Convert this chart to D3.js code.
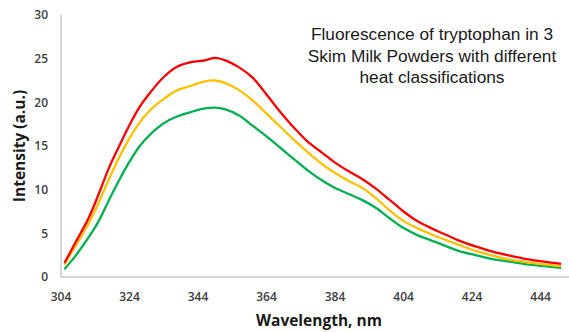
<!DOCTYPE html>
<html>
<head>
<meta charset="utf-8">
<script src="https://cdn.jsdelivr.net/npm/d3@7"></script>
<style>
  body { margin: 0; background: #fff; }
  svg { display: block; }
  .tick-label { font-family: "Open Sans", sans-serif; font-weight: 600; font-size: 12px; fill: #404040; }
  .axis-title { font-family: "Open Sans", sans-serif; font-weight: 700; font-size: 15.5px; fill: #1a1a1a; }
  .chart-title { font-family: "Liberation Sans", Arial, sans-serif; font-size: 17.3px; fill: #1a1a1a; }
</style>
</head>
<body>
<svg width="569" height="332"></svg>
<script>
var svg = d3.select("svg"),
    width = +svg.attr("width"),
    height = +svg.attr("height");

// wavelength (nm)
var wavelengths = [305, 308, 312, 315, 318, 321, 324, 327, 330, 334, 338, 342, 346, 349, 352, 356,
    360, 364, 368, 372, 376, 380, 384, 388, 392, 396, 400, 404, 408, 412, 416, 420, 425, 430, 435, 440, 445, 450];

var redValues = [1.6, 3.8, 6.7, 9.5, 12.5, 15.0, 17.4, 19.5, 21.1, 22.9, 24.1, 24.6, 24.8, 25.1, 24.8, 24.0,
    22.8, 20.9, 18.9, 17.1, 15.5, 14.3, 13.1, 12.1, 11.2, 10.1, 8.8, 7.5, 6.4, 5.6, 4.9, 4.2, 3.5, 2.9, 2.45, 2.05, 1.75, 1.5];

var yellowValues = [1.4, 3.4, 6.1, 8.5, 11.2, 13.7, 15.9, 17.7, 19.1, 20.4, 21.4, 21.9, 22.4, 22.5, 22.2, 21.4,
    20.2, 18.7, 17.2, 15.7, 14.3, 13.0, 11.9, 11.0, 10.2, 9.0, 7.6, 6.4, 5.6, 4.9, 4.3, 3.7, 3.0, 2.45, 2.0, 1.7, 1.45, 1.25];

var greenValues = [0.9, 2.3, 4.5, 6.4, 8.8, 11.1, 13.2, 15.0, 16.3, 17.6, 18.4, 18.9, 19.3, 19.4, 19.2, 18.5,
    17.3, 16.1, 14.8, 13.5, 12.2, 11.1, 10.2, 9.5, 8.8, 7.9, 6.7, 5.6, 4.8, 4.2, 3.6, 3.0, 2.5, 2.05, 1.75, 1.45, 1.25, 1.05];

var xTicks = [304, 324, 344, 364, 384, 404, 424, 444];
var yTicks = [0, 5, 10, 15, 20, 25, 30];

var titleLines = ["Fluorescence of tryptophan in 3", "Skim Milk Powders with different", "heat classifications"];

var series = [
    { name: "green", color: "#00b050", values: greenValues },
    { name: "yellow", color: "#ffc000", values: yellowValues },
    { name: "red", color: "#ff0000", values: redValues }
];

var x = d3.scaleLinear()
    .domain([304, 452])
    .range([61, 568]);

var y = d3.scaleLinear()
    .domain([0, 30])
    .range([277, 15]);

// axis lines
svg.append("line")
    .attr("x1", x(304)).attr("x2", x(304))
    .attr("y1", y(30)).attr("y2", y(0))
    .attr("stroke", "#c8c8c8").attr("stroke-width", 1.5);

svg.append("line")
    .attr("x1", x(304)).attr("x2", width)
    .attr("y1", y(0)).attr("y2", y(0))
    .attr("stroke", "#c8c8c8").attr("stroke-width", 1.5);

// tick labels
svg.selectAll(".ylab")
    .data(yTicks)
    .enter().append("text")
    .attr("class", "tick-label")
    .attr("x", 48)
    .attr("y", d => y(d))
    .attr("dy", "0.35em")
    .attr("text-anchor", "end")
    .text(d => d);

svg.selectAll(".xlab")
    .data(xTicks)
    .enter().append("text")
    .attr("class", "tick-label")
    .attr("x", d => x(d))
    .attr("y", 297)
    .attr("dy", "0.35em")
    .attr("text-anchor", "middle")
    .text(d => d);

// axis titles
svg.append("text")
    .attr("class", "axis-title")
    .attr("x", 319)
    .attr("y", 321)
    .attr("dy", "0.35em")
    .attr("text-anchor", "middle")
    .text("Wavelength, nm");

svg.append("text")
    .attr("class", "axis-title")
    .attr("transform", "translate(20,146) rotate(-90)")
    .attr("dy", "0.35em")
    .attr("text-anchor", "middle")
    .text("Intensity (a.u.)");

// spectra
var line = d3.line()
    .x((d, i) => x(wavelengths[i]))
    .y(d => y(d))
    .curve(d3.curveCatmullRom.alpha(0.5));

svg.selectAll(".spectrum")
    .data(series)
    .enter().append("path")
    .attr("class", "spectrum")
    .attr("fill", "none")
    .attr("stroke", d => d.color)
    .attr("stroke-width", 2.3)
    .attr("stroke-linejoin", "round")
    .attr("d", d => line(d.values));

// chart title
svg.append("text")
    .attr("class", "chart-title")
    .attr("text-anchor", "middle")
    .selectAll("tspan")
    .data(titleLines)
    .enter().append("tspan")
    .attr("x", 432)
    .attr("y", (d, i) => 40 + i * 21.5)
    .text(d => d);
</script>
</body>
</html>
